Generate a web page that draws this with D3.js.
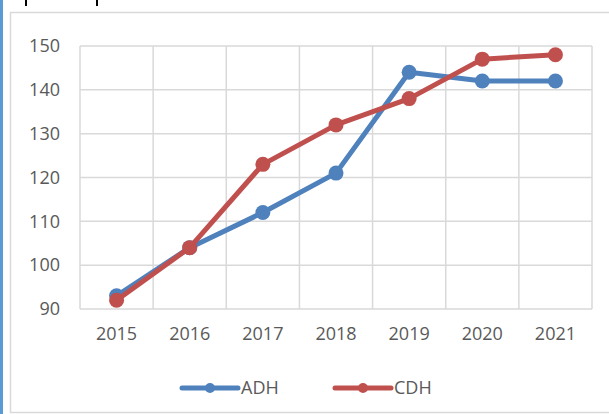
<!DOCTYPE html>
<html>
<head>
<meta charset="utf-8">
<script src="https://cdn.jsdelivr.net/npm/d3@7"></script>
<style>
  html, body { margin: 0; padding: 0; background: #fff; }
  svg { display: block; font-family: "Open Sans", sans-serif; }
</style>
</head>
<body>
<div id="chart"></div>
<script>
const years = ['2015', '2016', '2017', '2018', '2019', '2020', '2021'];
const adh = [93, 104, 112, 121, 144, 142, 142];
const cdh = [92, 104, 123, 132, 138, 147, 148];
const yTicks = [90, 100, 110, 120, 130, 140, 150];
const seriesNames = ['ADH', 'CDH'];
const seriesColors = ['#4F81BD', '#C0504D'];

const W = 609, H = 414;
const plot = { left: 80, right: 592, top: 46, bottom: 309 };

const svg = d3.select('#chart').append('svg')
  .attr('width', W)
  .attr('height', H);

// frame bits around the chart (cropped document context)
svg.append('rect')
  .attr('x', 0).attr('y', 0)
  .attr('width', 3).attr('height', H)
  .attr('fill', '#5B9BD5');
[26, 97].forEach(x => {
  svg.append('line')
    .attr('x1', x).attr('x2', x)
    .attr('y1', 0).attr('y2', 6)
    .attr('stroke', '#000')
    .attr('stroke-width', 2);
});
svg.append('rect')
  .attr('x', 10.5).attr('y', 12.5)
  .attr('width', W + 10).attr('height', 400)
  .attr('fill', '#fff')
  .attr('stroke', '#d9d9d9')
  .attr('stroke-width', 1.5);

const x = d3.scaleBand()
  .domain(years)
  .range([plot.left, plot.right]);

const y = d3.scaleLinear()
  .domain([90, 150])
  .range([plot.bottom, plot.top]);

// horizontal gridlines
svg.append('g')
  .selectAll('line')
  .data(yTicks)
  .enter()
  .append('line')
  .attr('x1', plot.left).attr('x2', plot.right)
  .attr('y1', d => y(d)).attr('y2', d => y(d))
  .attr('stroke', '#d9d9d9')
  .attr('stroke-width', 1.5);

// vertical gridlines at band edges
const edges = years.map(d => x(d)).concat([plot.right]);
svg.append('g')
  .selectAll('line')
  .data(edges)
  .enter()
  .append('line')
  .attr('x1', d => d).attr('x2', d => d)
  .attr('y1', plot.top).attr('y2', plot.bottom)
  .attr('stroke', '#d9d9d9')
  .attr('stroke-width', 1.5);

// y axis labels
const yAxis = svg.append('g')
  .attr('transform', `translate(${plot.left - 20},0)`)
  .call(d3.axisLeft(y).tickValues(yTicks).tickSize(0).tickPadding(0));
yAxis.select('.domain').remove();
yAxis.selectAll('text')
  .attr('fill', '#595959')
  .style('font-size', '18px')
  .style('font-family', '"Open Sans", sans-serif');

// x axis labels
const xAxis = svg.append('g')
  .attr('transform', `translate(0,${plot.bottom})`)
  .call(d3.axisBottom(x).tickSize(0).tickPadding(18));
xAxis.select('.domain').remove();
xAxis.selectAll('text')
  .attr('fill', '#595959')
  .style('font-size', '18px')
  .style('font-family', '"Open Sans", sans-serif');

// series
const series = [adh, cdh].map((values, i) => ({
  name: seriesNames[i],
  color: seriesColors[i],
  values: values.map((v, j) => ({ year: years[j], value: v }))
}));

const line = d3.line()
  .x(d => x(d.year) + x.bandwidth() / 2)
  .y(d => y(d.value));

series.forEach(s => {
  const g = svg.append('g');
  g.append('path')
    .datum(s.values)
    .attr('fill', 'none')
    .attr('stroke', s.color)
    .attr('stroke-width', 5)
    .attr('stroke-linejoin', 'round')
    .attr('d', line);
  g.selectAll('circle')
    .data(s.values)
    .enter()
    .append('circle')
    .attr('cx', d => x(d.year) + x.bandwidth() / 2)
    .attr('cy', d => y(d.value))
    .attr('r', 7.5)
    .attr('fill', s.color);
});

// legend
const legendX = [182, 335];
series.forEach((s, i) => {
  const g = svg.append('g')
    .attr('transform', `translate(${legendX[i]},388)`);
  g.append('line')
    .attr('x1', 0).attr('x2', 56)
    .attr('y1', 0).attr('y2', 0)
    .attr('stroke', s.color)
    .attr('stroke-width', 5)
    .attr('stroke-linecap', 'round');
  g.append('circle')
    .attr('cx', 28).attr('cy', 0)
    .attr('r', 5)
    .attr('fill', s.color);
  g.append('text')
    .attr('x', 59)
    .attr('y', 0)
    .attr('dy', '0.35em')
    .attr('fill', '#595959')
    .style('font-size', '18px')
    .text(s.name);
});
</script>
</body>
</html>
